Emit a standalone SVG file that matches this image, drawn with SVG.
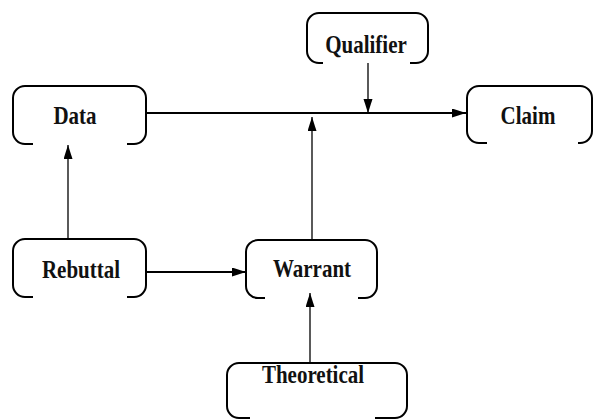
<svg xmlns="http://www.w3.org/2000/svg" width="594" height="420" viewBox="0 0 594 420">
<style>
.box{fill:none;stroke:#000;stroke-width:2;}
.lbl{font-family:"Liberation Serif","Times New Roman",serif;font-weight:bold;font-size:21px;fill:#111;text-anchor:middle;}
.ln{fill:none;stroke:#000;stroke-width:1.3;}
.thick{stroke-width:2;}
</style>
<defs>
<marker id="ah" markerUnits="userSpaceOnUse" markerWidth="15" markerHeight="10" refX="14" refY="4.5" orient="auto">
<path d="M0,0 L14,4.5 L0,9 Z" fill="#000"/>
</marker>
</defs>
<rect width="594" height="420" fill="#fff"/>
<g id="connectors">
<line class="ln thick" x1="146" y1="113" x2="466" y2="113" marker-end="url(#ah)"/>
<line class="ln" x1="368" y1="63" x2="368" y2="113" marker-end="url(#ah)"/>
<line class="ln" x1="312" y1="240" x2="312" y2="117" marker-end="url(#ah)"/>
<line class="ln" x1="68" y1="239" x2="68" y2="145" marker-end="url(#ah)"/>
<line class="ln thick" x1="146" y1="272" x2="246" y2="272" marker-end="url(#ah)"/>
<line class="ln" x1="310" y1="363" x2="310" y2="293" marker-end="url(#ah)"/>
</g>
<g id="data">
<path class="box" d="M33,144 H25 A12,12 0 0 1 13,132 V98 A12,12 0 0 1 25,86 H134 A12,12 0 0 1 146,98 V132 A12,12 0 0 1 134,144 H127"/>
<text class="lbl" transform="translate(75,124) scale(1,1.22)">Data</text>
</g>
<g id="qualifier">
<path class="box" d="M323,63 H319 A12,12 0 0 1 307,51 V25 A12,12 0 0 1 319,13 H416 A12,12 0 0 1 428,25 V51 A12,12 0 0 1 416,63 H410"/>
<text class="lbl" transform="translate(366,53) scale(1,1.22)">Qualifier</text>
</g>
<g id="claim">
<path class="box" d="M487,143 H479 A12,12 0 0 1 467,131 V98 A12,12 0 0 1 479,86 H580 A12,12 0 0 1 592,98 V131 A12,12 0 0 1 580,143 H578"/>
<text class="lbl" transform="translate(528,124) scale(1,1.22)">Claim</text>
</g>
<g id="rebuttal">
<path class="box" d="M33,297 H25 A12,12 0 0 1 13,285 V251 A12,12 0 0 1 25,239 H134 A12,12 0 0 1 146,251 V285 A12,12 0 0 1 134,297 H127"/>
<text class="lbl" transform="translate(81,278) scale(1,1.22)">Rebuttal</text>
</g>
<g id="warrant">
<path class="box" d="M265,298 H258 A12,12 0 0 1 246,286 V252 A12,12 0 0 1 258,240 H365 A12,12 0 0 1 377,252 V286 A12,12 0 0 1 365,298 H358"/>
<text class="lbl" transform="translate(312,277) scale(1,1.22)">Warrant</text>
</g>
<g id="theoretical">
<path class="box" d="M250,418 H239 A12,12 0 0 1 227,406 V375 A12,12 0 0 1 239,363 H395 A12,12 0 0 1 407,375 V406 A12,12 0 0 1 395,418 H375"/>
<text class="lbl" transform="translate(313,383) scale(1,1.22)">Theoretical</text>
</g>
</svg>
